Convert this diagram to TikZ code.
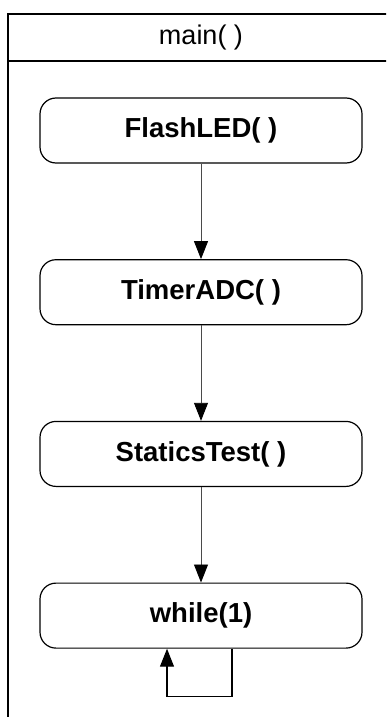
\documentclass[tikz,border=0pt]{standalone}
\usepackage{fontspec}
\setmainfont{Liberation Sans}
\usepackage{tikz}
\usetikzlibrary{arrows.meta,positioning}
\definecolor{flowgray}{HTML}{4A4A4A}
\tikzset{
  frameline/.style={line width=1.3pt,black},
  funcbox/.style={draw,line width=1.2pt,rounded corners=16pt,minimum width=322pt,minimum height=65pt,
    font=\fontsize{27.5}{31}\selectfont\bfseries,inner sep=0pt},
  flow/.style={-{Triangle[length=18pt,width=14pt,color=black,fill=black]},line width=0.9pt,flowgray},
  loopline/.style={-{Triangle[length=18pt,width=14pt,color=black,fill=black]},line width=1.3pt,black}
}
\begin{document}
\begin{tikzpicture}[x=1pt,y=-1pt,node distance=95.5pt]
  \useasboundingbox (0,0) rectangle (386,717);
  \clip (0,0) rectangle (386,717);
  % outer frame with its title bar
  \draw[frameline] (8,14) rectangle (400,730);
  \draw[frameline] (8,61) -- (400,61);
  \node[font=\fontsize{27}{31}\selectfont] (title) at (201,38) {main( )};
  % the calls, one below the other
  \node[funcbox] (flash) at (201,130.5) {FlashLED( )};
  \node[funcbox,below=of flash] (timer) {TimerADC( )};
  \node[funcbox,below=of timer] (statics) {StaticsTest( )};
  \node[funcbox,below=of statics] (loop) {while(1)};
  \draw[flow] (flash) -- (timer);
  \draw[flow] (timer) -- (statics);
  \draw[flow] (statics) -- (loop);
  % endless loop
  \coordinate (loopout) at ([xshift=31pt]loop.south);
  \coordinate (loopin) at ([xshift=-34pt]loop.south);
  \draw[loopline] (loopout) -- ++(0,48) -| (loopin);
\end{tikzpicture}
\end{document}
